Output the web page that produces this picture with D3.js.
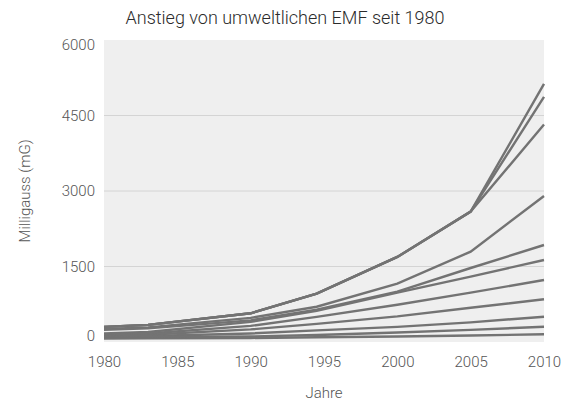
<!DOCTYPE html>
<html>
<head>
<meta charset="utf-8">
<script src="https://cdn.jsdelivr.net/npm/d3@7"></script>
<style>
  body { margin: 0; background: #fff; }
  text { font-family: Roboto, "Noto Sans", sans-serif; font-weight: 300; }
</style>
</head>
<body>
<div class="canvas"></div>
<script>
// data
const years = [1980, 1983, 1990, 1994.5, 2000, 2005, 2010];
const series = [
  [300, 340, 570, 960, 1690, 2590, 5130],
  [300, 340, 570, 960, 1690, 2590, 4870],
  [300, 340, 570, 960, 1690, 2590, 4320],
  [260, 290, 480, 700, 1160, 1795, 2900],
  [240, 270, 430, 640, 1000, 1470, 1927],
  [170, 200, 400, 620, 980, 1300, 1629],
  [150, 170, 320, 500, 740, 980, 1232],
  [130, 145, 250, 360, 510, 680, 848],
  [110, 120, 170, 230, 300, 390, 503],
  [90, 95, 110, 140, 190, 240, 304],
  [70, 72, 80, 95, 110, 130, 153]
];
const xTicks = [1980, 1985, 1990, 1995, 2000, 2005, 2010];
const yTicks = [0, 1500, 3000, 4500, 6000];

const margin = { top: 40, right: 27, bottom: 62, left: 104 };
const width = 571 - margin.left - margin.right;
const height = 404 - margin.top - margin.bottom;

const svg = d3
  .select(".canvas")
  .append("svg")
  .attr("width", 571)
  .attr("height", 404);

const g = svg
  .append("g")
  .attr("transform", `translate(${margin.left},${margin.top})`);

const x = d3.scaleLinear().domain([1980, 2010]).range([0, width]);
const y = d3.scaleLinear().domain([0, 6000]).range([height, 0]);

// plot background
g.append("rect")
  .attr("width", width)
  .attr("height", height)
  .attr("fill", "#efefef");

// horizontal gridlines
g.selectAll(".grid")
  .data(yTicks.slice(1, -1))
  .join("line")
  .attr("x1", 0)
  .attr("x2", width)
  .attr("y1", (d) => y(d))
  .attr("y2", (d) => y(d))
  .attr("stroke", "#d4d4d4")
  .attr("stroke-width", 1);

const line = d3
  .line()
  .x((d, i) => x(years[i]))
  .y((d) => y(d));

g.selectAll(".series")
  .data(series)
  .join("path")
  .attr("d", line)
  .attr("fill", "none")
  .attr("stroke", "#737373")
  .attr("stroke-width", 2.4);

// axes
const xAxis = g
  .append("g")
  .attr("transform", `translate(0,${height})`)
  .call(d3.axisBottom(x).tickValues(xTicks).tickFormat(d3.format("d")).tickSize(0).tickPadding(14));
const yAxis = g
  .append("g")
  .call(d3.axisLeft(y).tickValues(yTicks).tickFormat(d3.format("d")).tickSize(0).tickPadding(9));

[xAxis, yAxis].forEach((a) => {
  a.select(".domain").remove();
  a.selectAll("text")
    .attr("fill", "#555")
    .style("font-size", "15px")
    .style("font-family", "Roboto, 'Noto Sans', sans-serif")
    .style("font-weight", 300);
});
// end labels sit inside the plot edges
yAxis.selectAll(".tick text").filter((d) => d === 0).attr("dy", "-0.1em");
yAxis.selectAll(".tick text").filter((d) => d === 6000).attr("dy", "0.6em");

// title
svg.append("text")
  .attr("x", 285)
  .attr("y", 24)
  .attr("text-anchor", "middle")
  .attr("fill", "#2b2b2b")
  .style("font-size", "18px")
  .text("Anstieg von umweltlichen EMF seit 1980");

// axis titles
svg.append("text")
  .attr("x", margin.left + width / 2)
  .attr("y", 398)
  .attr("text-anchor", "middle")
  .attr("fill", "#555")
  .style("font-size", "15px")
  .text("Jahre");

svg.append("text")
  .attr("transform", `translate(30,${margin.top + height / 2}) rotate(-90)`)
  .attr("text-anchor", "middle")
  .attr("fill", "#555")
  .style("font-size", "15px")
  .text("Milligauss (mG)");
</script>
</body>
</html>
